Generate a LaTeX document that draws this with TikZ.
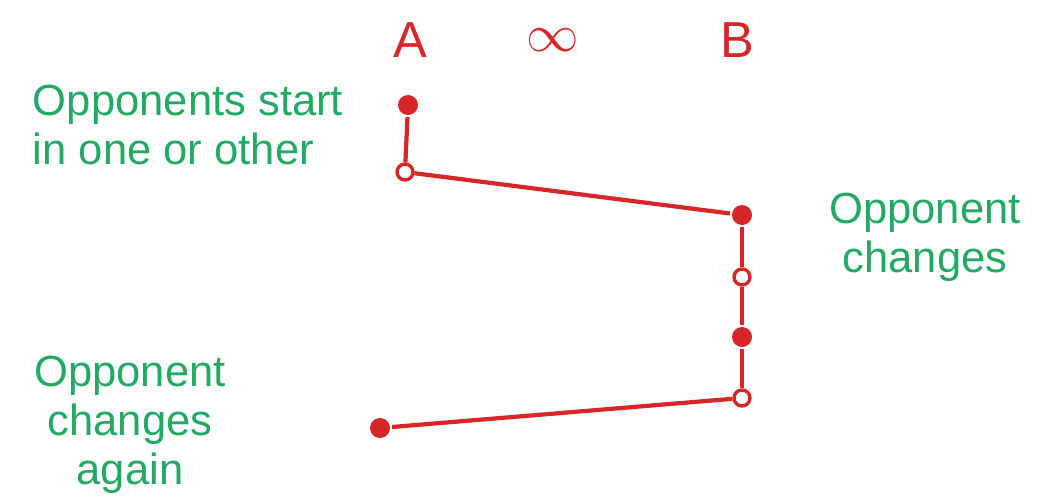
\documentclass[tikz,border=0pt]{standalone}
\usepackage{fontspec}
\setmainfont{Liberation Sans}
\usepackage{tikz}
\usetikzlibrary{positioning}
\definecolor{penred}{RGB}{214,38,40}
\definecolor{pengreen}{RGB}{34,170,100}

\begin{document}
\begin{tikzpicture}[x=0.025cm, y=-0.025cm, line width=3pt,
    fulldot/.style = {circle, fill=penred, inner sep=0pt, minimum size=0.5cm},
    hollowdot/.style = {circle, draw=penred, fill=white, line width=2.4pt, inner sep=0pt, minimum size=0.4cm},
    head/.style = {text=penred, font=\fontsize{36}{40}\selectfont},
    note/.style = {text=pengreen, font=\fontsize{31}{35}\selectfont}]
    \useasboundingbox (0,0) rectangle (1057,499);
    % column heads
    \node[head] (A) at (410,40) {A};
    \node[head] (inf) at (553,40) {\scalebox{1.5}{$\infty$}};
    \node[head] (B) at (737,40) {B};
    % states
    \node[fulldot] (1) at (408,105) {};
    \node[hollowdot] (2) at (405,172) {};
    \node[fulldot] (3) at (742,215) {};
    \node[hollowdot] (4) at (742,277) {};
    \node[fulldot] (5) at (742,337) {};
    \node[hollowdot] (6) at (742,398) {};
    \node[fulldot] (7) at (380,428) {};
    \draw[penred] (1) -- (2);
    \draw[penred] (2) -- (3);
    \draw[penred] (3) -- (4);
    \draw[penred] (4) -- (5);
    \draw[penred] (5) -- (6);
    \draw[penred] (6) -- (7);
    % notes
    \node[note, align=left] (start) at (188,125) {Opponents start\\in one or other};
    \node[note, align=center] (change) at (925,237) {Opponent\\changes};
    \node[note, align=center] (again) at (130,425) {Opponent\\changes\\again};
\end{tikzpicture}
\end{document}
